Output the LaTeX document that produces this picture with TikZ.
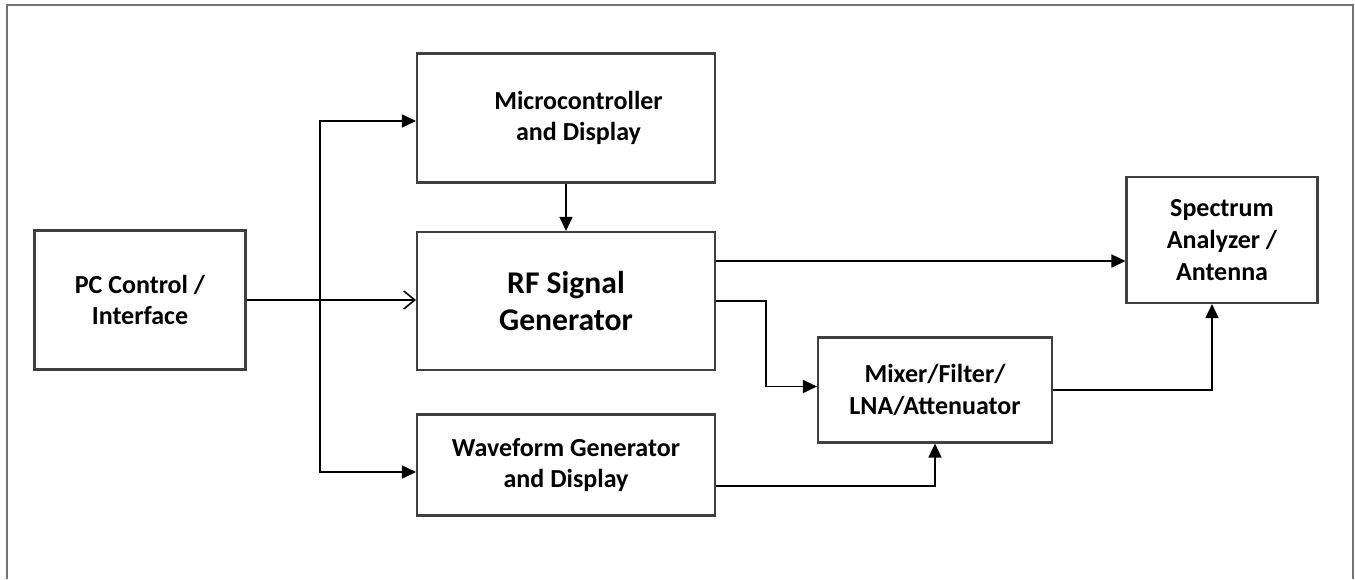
\documentclass[tikz,border=0pt]{standalone}
\usepackage{fontspec}
\setmainfont{Carlito}
\usepackage{tikz}
\usetikzlibrary{positioning,arrows.meta,calc}

\begin{document}
\begin{tikzpicture}[x=0.02cm,y=-0.02cm,line join=miter,
    font=\fontsize{14.8}{18}\selectfont\bfseries,
    blk/.style={draw=black!75,line width=1.2pt,align=center,inner sep=0pt},
    fwd/.style={black,line width=0.9pt,-{Triangle[length=2.8mm,width=2.6mm]}},
    open/.style={black,line width=0.9pt,-{Straight Barb[length=2.2mm,width=3.6mm]}}]
  \useasboundingbox (0,0) rectangle (1355,579);
  % outer frame, open at the bottom
  \draw[black!55,line width=1.1pt] (7,579) -- (7,5) -- (1353,5) -- (1353,579);

  \node[blk,minimum width=4.22cm,minimum height=2.78cm] (pc) at (140,300) {PC Control /\\Interface};
  \node[blk,minimum width=5.96cm,minimum height=2.58cm] (micro) at (566,118) {\hspace*{5mm}Microcontroller\\\hspace*{5mm}and Display};
  \node[blk,minimum width=5.96cm,minimum height=2.76cm,font=\fontsize{18}{21}\selectfont\bfseries] (rf) at (566,301) {RF Signal\\Generator};
  \node[blk,minimum width=5.96cm,minimum height=2.02cm] (wave) at (566,465) {Waveform Generator\\and Display};
  \node[blk,minimum width=4.68cm,minimum height=2.10cm] (mix) at (935,390) {Mixer/Filter/\\LNA/Attenuator};
  \node[blk,minimum width=3.82cm,minimum height=2.52cm] (spec) at (1222,240) {Spectrum\\Analyzer /\\Antenna};

  % control bus from the PC
  \coordinate (bus) at (320,300);
  \draw[open] (pc.east) -- (pc.east -| rf.west);
  \draw[fwd] (bus) |- ([yshift=-0.6mm]micro.west);
  \draw[fwd] (bus) |- ([yshift=-1.4mm]wave.west);
  \draw[fwd] (micro.south) -- (rf.north);

  % RF path
  \draw[fwd] ([yshift=8mm]rf.east) coordinate (rfo) -- (rfo -| spec.west);
  \draw[fwd] (rf.east) -- ++(50,0) |- ([yshift=0.7mm]mix.west);
  \draw[fwd] ([yshift=-4.2mm]wave.east) -| (mix.south);
  \draw[fwd] (mix.east) -| ([xshift=-2mm]spec.south);
\end{tikzpicture}
\end{document}
